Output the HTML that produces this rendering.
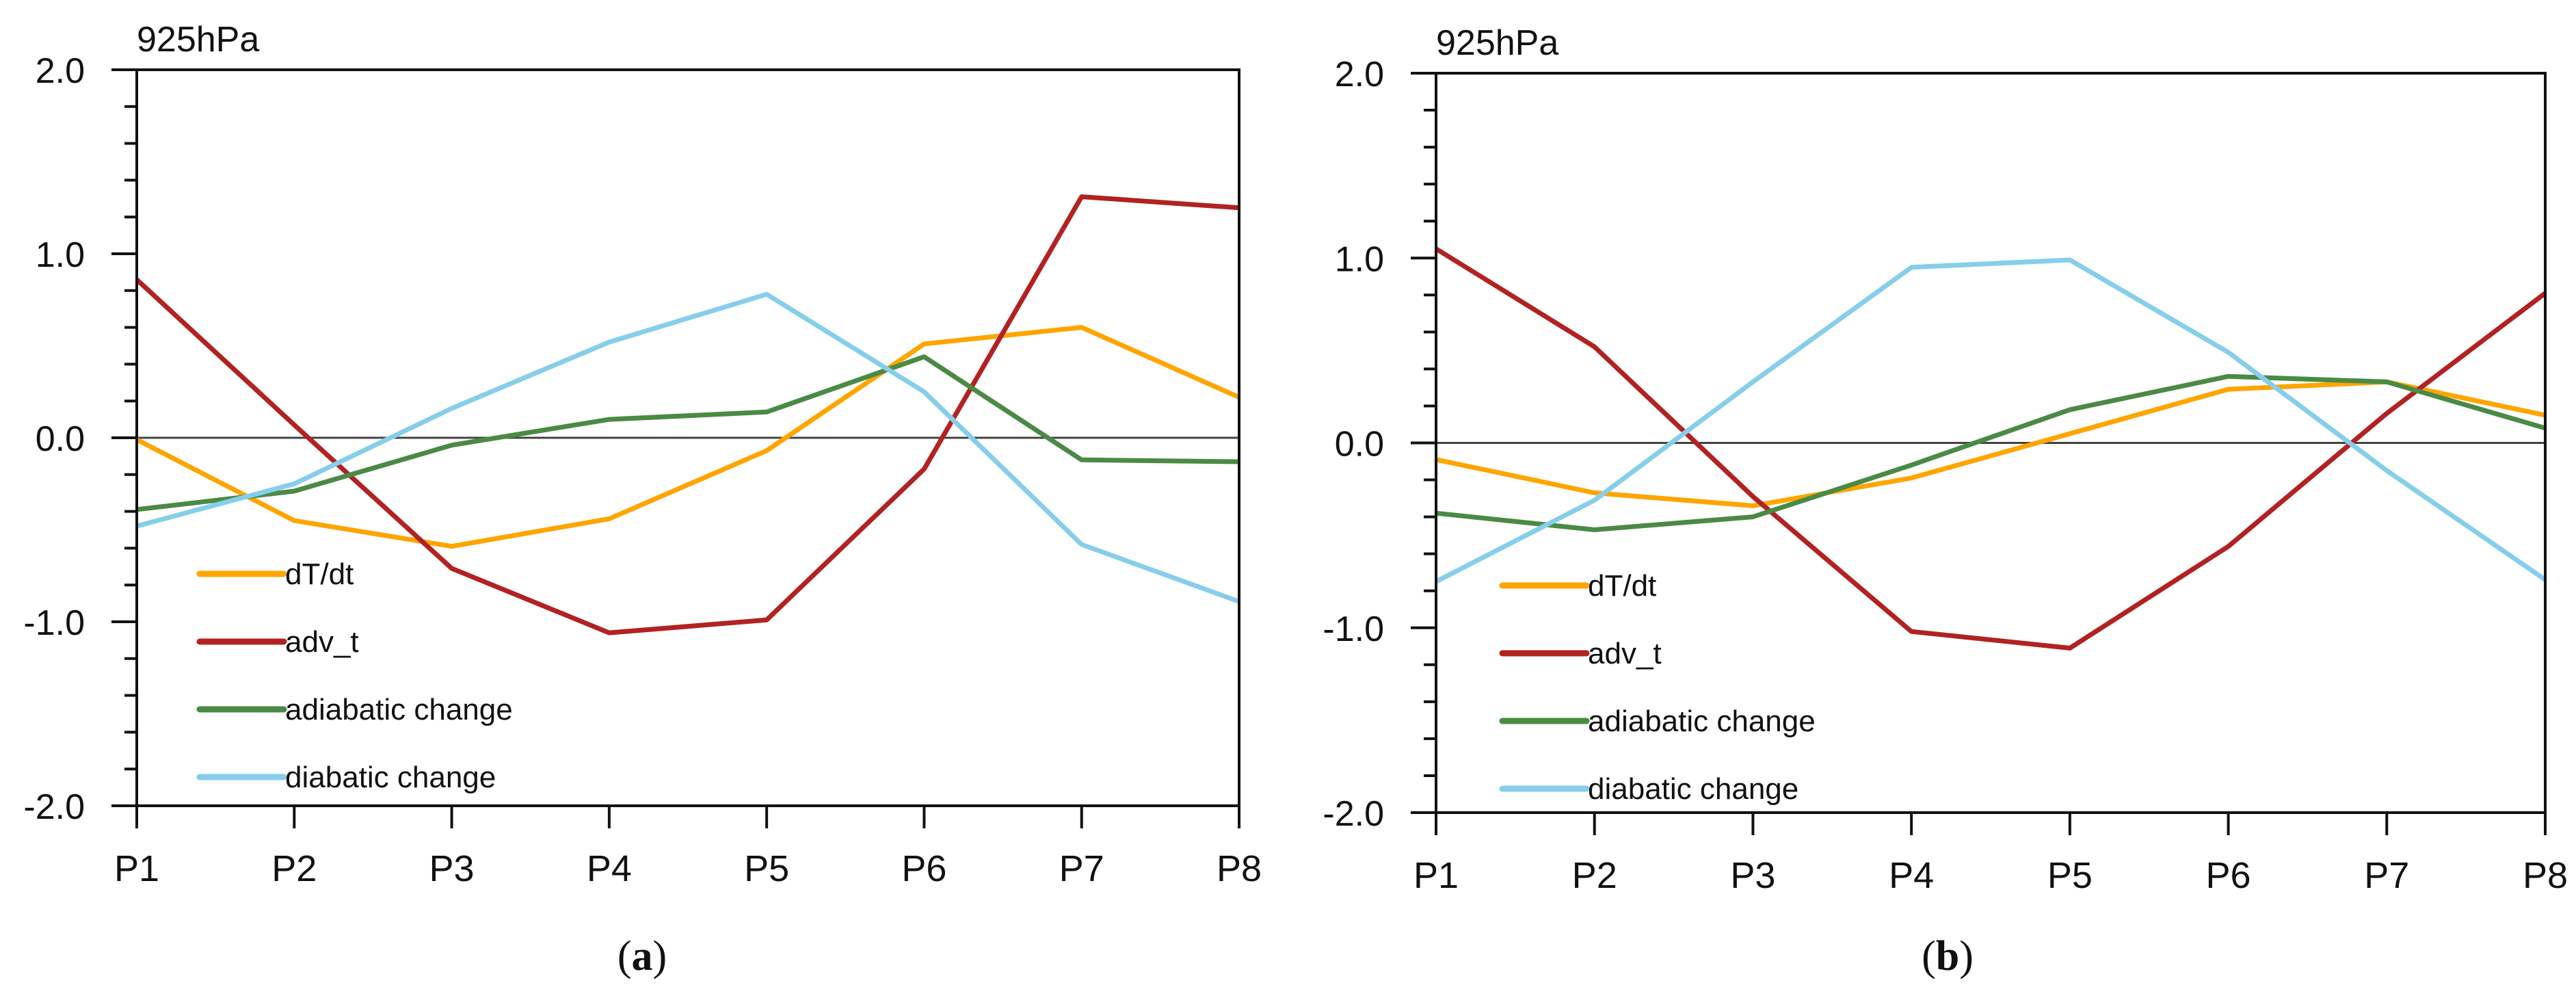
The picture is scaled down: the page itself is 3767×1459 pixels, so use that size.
<!DOCTYPE html>
<html><head><meta charset="utf-8">
<style>
html,body{margin:0;padding:0;background:#fff;}
svg{display:block;}
text{font-family:"Liberation Sans",sans-serif;fill:#111;}
</style></head>
<body>
<svg id="chart" width="3767" height="1459" viewBox="0 0 3767 1459" xmlns="http://www.w3.org/2000/svg"></svg>
<script>
const categories = ["P1","P2","P3","P4","P5","P6","P7","P8"];
const yTicks = [2.0, 1.0, 0.0, -1.0, -2.0];
const yTickLabels = ["2.0","1.0","0.0","-1.0","-2.0"];
const seriesNames = ["dT/dt","adv_t","adiabatic change","diabatic change"];
const seriesColors = ["#ffa500","#b22222","#4a8a45","#87ceeb"];
const a_dTdt = [-0.01,-0.45,-0.59,-0.44,-0.07,0.51,0.60,0.22];
const a_advT = [0.86,0.07,-0.71,-1.06,-0.99,-0.17,1.31,1.25];
const a_adiab = [-0.39,-0.29,-0.04,0.10,0.14,0.44,-0.12,-0.13];
const a_diab = [-0.48,-0.25,0.16,0.52,0.78,0.25,-0.58,-0.89];
const b_dTdt = [-0.09,-0.27,-0.34,-0.19,0.05,0.29,0.33,0.15];
const b_advT = [1.05,0.52,-0.29,-1.02,-1.11,-0.56,0.16,0.81];
const b_adiab = [-0.38,-0.47,-0.40,-0.12,0.18,0.36,0.33,0.08];
const b_diab = [-0.75,-0.31,0.33,0.95,0.99,0.49,-0.15,-0.74];

const NS = "http://www.w3.org/2000/svg";
const svg = document.getElementById("chart");
function mk(tag, attrs, parent){
  const e = document.createElementNS(NS, tag);
  for (const k in attrs) e.setAttribute(k, attrs[k]);
  (parent||svg).appendChild(e);
  return e;
}

function drawPanel(id, L, R, T, B, series, legX, legY0, caption, capX){
  const g = mk("g", {});
  
  
  const xs = i => L + (R - L) * i / (categories.length - 1);
  const ys = v => T + (2 - v) / 4 * (B - T);

  const title = mk("text", {x: L, y: T - 27, "font-size": 52}, g);
  title.textContent = "925hPa";
  
  

  // minor ticks
  for (let k = -20; k <= 20; k += 2) {
    const v = k / 10;
    if (Math.abs(k % 10) === 0) continue;
    const t = mk("line", {x1: L - 18, x2: L, y1: ys(v), y2: ys(v), stroke: "#111", "stroke-width": 4}, g);
    
    
  }
  yTicks.forEach((v, i) => {
    const t = mk("line", {x1: L - 37, x2: L, y1: ys(v), y2: ys(v), stroke: "#111", "stroke-width": 4}, g);
    
    
    const lb = mk("text", {x: L - 76, y: ys(v) + 19, "font-size": 52, "text-anchor": "end"}, g);
    lb.textContent = yTickLabels[i];
    
    
  });
  categories.forEach((c, i) => {
    const t = mk("line", {x1: xs(i), x2: xs(i), y1: B, y2: B + 33, stroke: "#111", "stroke-width": 4}, g);
    
    
    const lb = mk("text", {x: xs(i), y: B + 110, "font-size": 54, "text-anchor": "middle"}, g);
    lb.textContent = c;
    
    
  });
  const zl = mk("line", {x1: L, x2: R, y1: ys(0), y2: ys(0), stroke: "#444", "stroke-width": 3}, g);
  
  

  series.forEach((vals, s) => {
    const pts = vals.map((v, i) => xs(i).toFixed(1) + "," + ys(v).toFixed(1)).join(" ");
    const pl = mk("polyline", {points: pts, fill: "none", stroke: seriesColors[s], "stroke-width": 7, "stroke-linejoin": "round"}, g);
    
    
  });

  const fr = mk("rect", {x: L, y: T, width: R - L, height: B - T, fill: "none", stroke: "#111", "stroke-width": 4}, g);
  
  

  seriesNames.forEach((n, s) => {
    const y = legY0 + s * 99;
    const ln = mk("line", {x1: legX, x2: legX + 123, y1: y, y2: y, stroke: seriesColors[s], "stroke-width": 9, "stroke-linecap": "round"}, g);
    
    
    const tx = mk("text", {x: legX + 125, y: y + 15, "font-size": 44}, g);
    tx.textContent = n;
    
    
  });

  const cap = mk("text", {x: capX, y: 1418, "font-size": 62, "text-anchor": "middle", style: "font-family:'Liberation Serif',serif"}, g);
  cap.innerHTML = '(<tspan font-weight="bold">' + caption + '</tspan>)';
  
  
}

drawPanel("a", 200, 1812, 102, 1178, [a_dTdt, a_advT, a_adiab, a_diab], 292, 839, "a", 939);
drawPanel("b", 2100, 3722, 107, 1188, [b_dTdt, b_advT, b_adiab, b_diab], 2197, 856, "b", 2848);
</script>
</body></html>
